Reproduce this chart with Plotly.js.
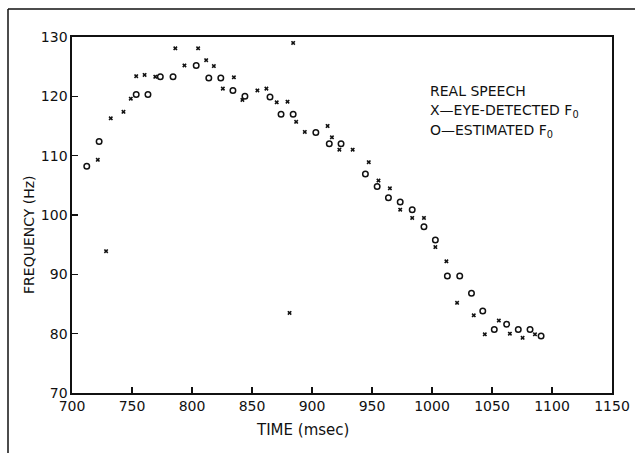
<!DOCTYPE html>
<html>
<head>
<meta charset="utf-8">
<script src="https://cdn.plot.ly/plotly-3.0.1.min.js"></script>
<style>html,body{margin:0;padding:0;background:#fff;}#chart{width:635px;height:453px;}</style>
</head>
<body>
<div id="chart"></div>
<script>
// Eye-detected F0 (X marks)
var eyeTime = [721.5, 728.4, 732.3, 742.9, 749.0, 753.5, 760.5, 769.4, 786.1, 793.7, 805.1, 811.8, 818.2, 825.7, 834.9, 842.0, 854.5, 862.0, 870.6, 879.6, 881.3, 884.3, 886.8, 894.0, 913.0, 916.6, 922.8, 933.9, 947.3, 955.4, 964.9, 973.5, 983.5, 993.3, 1002.8, 1012.0, 1020.9, 1034.8, 1044.0, 1055.7, 1064.9, 1075.5, 1085.8];
var eyeFreq = [109.3, 93.9, 116.3, 117.4, 119.6, 123.4, 123.6, 123.3, 128.1, 125.2, 128.1, 126.1, 125.1, 121.3, 123.2, 119.4, 121.0, 121.3, 119.0, 119.1, 83.5, 129.0, 115.7, 114.0, 115.0, 113.1, 111.0, 111.0, 108.9, 105.8, 104.5, 100.9, 99.5, 99.5, 94.6, 92.2, 85.2, 83.1, 79.9, 82.2, 80.0, 79.3, 79.9];
// Estimated F0 (O marks)
var estTime = [712.3, 722.6, 753.5, 763.3, 773.6, 784.2, 803.5, 814.0, 824.0, 834.1, 844.1, 865.0, 874.2, 884.3, 903.2, 914.4, 924.2, 944.5, 954.3, 963.7, 973.5, 983.5, 993.3, 1002.8, 1012.8, 1023.1, 1032.9, 1042.3, 1051.9, 1062.2, 1071.9, 1081.7, 1090.9];
var estFreq = [108.2, 112.4, 120.3, 120.3, 123.3, 123.3, 125.2, 123.1, 123.1, 121.0, 120.0, 119.9, 117.0, 117.0, 113.9, 112.0, 112.0, 106.9, 104.8, 102.9, 102.2, 100.9, 98.0, 95.8, 89.7, 89.7, 86.8, 83.8, 80.7, 81.6, 80.7, 80.7, 79.6];
var xTicks = [700, 750, 800, 850, 900, 950, 1000, 1050, 1100, 1150];
var yTicks = [70, 80, 90, 100, 110, 120, 130];
var legendLines = ["REAL SPEECH", "X\u2014EYE-DETECTED F<sub>0</sub>", "O\u2014ESTIMATED F<sub>0</sub>"];

var FONT = "DejaVu Sans, Liberation Sans, sans-serif";

var traces = [
  {x: eyeTime, y: eyeFreq, type: "scatter", mode: "markers", name: "X-EYE-DETECTED F0",
   marker: {symbol: "x", size: 4, color: "#111", line: {width: 0}}},
  {x: estTime, y: estFreq, type: "scatter", mode: "markers", name: "O-ESTIMATED F0",
   marker: {symbol: "circle-open", size: 5.5, color: "#111", line: {width: 1.5, color: "#111"}}}
];

function px(rx) { return (rx - 72) / 540; }
function py(ry) { return (393 - ry) / 356; }

var annotations = [
  {xref: "paper", yref: "paper", x: px(302), y: py(430), text: "TIME (msec)", showarrow: false,
   xanchor: "center", yanchor: "middle", font: {family: FONT, size: 15, color: "#111"}},
  {xref: "paper", yref: "paper", x: px(29), y: py(235), text: "FREQUENCY (Hz)", showarrow: false,
   textangle: -90, xanchor: "center", yanchor: "middle", font: {family: FONT, size: 14, color: "#111"}}
];
var legendY = [91, 111, 131];
for (var i = 0; i < legendLines.length; i++) {
  annotations.push({xref: "paper", yref: "paper", x: px(428), y: py(legendY[i]), text: legendLines[i],
    showarrow: false, xanchor: "left", yanchor: "middle", align: "left",
    font: {family: FONT, size: 14, color: "#111"}});
}

var layout = {
  width: 635, height: 453,
  margin: {l: 72, r: 23, t: 37, b: 60},
  paper_bgcolor: "#fff", plot_bgcolor: "#fff",
  showlegend: false,
  font: {family: FONT, size: 14, color: "#111"},
  xaxis: {range: [700, 1150], tickvals: xTicks, ticktext: xTicks.map(String), ticks: "inside", ticklen: 6,
          tickcolor: "#111", tickwidth: 1.3, showgrid: false, zeroline: false, showline: true, mirror: true,
          linecolor: "#111", linewidth: 1.6, tickfont: {family: FONT, size: 14, color: "#111"}},
  yaxis: {range: [70, 130], tickvals: yTicks, ticktext: yTicks.map(String), ticks: "inside", ticklen: 6,
          tickcolor: "#111", tickwidth: 1.3, showgrid: false, zeroline: false, showline: true, mirror: true,
          linecolor: "#111", linewidth: 1.6, tickfont: {family: FONT, size: 14, color: "#111"}},
  annotations: annotations,
  shapes: [
    {type: "line", xref: "paper", yref: "paper", x0: px(8), x1: px(640), y0: py(9), y1: py(9), line: {color: "#111", width: 1.5}},
    {type: "line", xref: "paper", yref: "paper", x0: px(8), x1: px(8), y0: py(9), y1: py(460), line: {color: "#111", width: 1.5}}
  ]
};

Plotly.newPlot("chart", traces, layout, {staticPlot: true, displayModeBar: false});
</script>
</body>
</html>
